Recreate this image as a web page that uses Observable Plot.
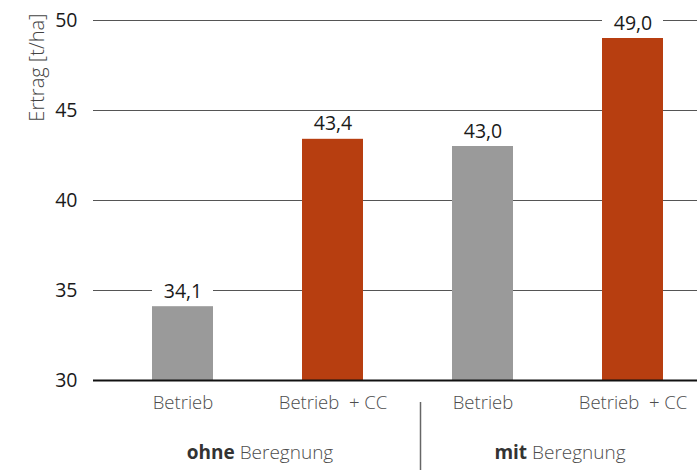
<!DOCTYPE html>
<html>
<head>
<meta charset="utf-8">
<script src="https://cdn.jsdelivr.net/npm/d3@7"></script>
<script src="https://cdn.jsdelivr.net/npm/@observablehq/plot@0.6"></script>
<style>
  html, body { margin: 0; padding: 0; background: #fff; }
  svg text { white-space: pre; }
</style>
</head>
<body>
<div id="chart"></div>
<script>
const groups = ["ohne", "ohne", "mit", "mit"];
const treatments = ["Betrieb", "Betrieb  + CC", "Betrieb", "Betrieb  + CC"];
const values = [34.1, 43.4, 43.0, 49.0];
const barColors = ["#9a9a9a", "#b73e10", "#9a9a9a", "#b73e10"];
const yTicks = [30, 35, 40, 45, 50];
const yLabel = "Ertrag [t/ha]";
const groupNames = ["ohne", "mit"];
const groupSuffix = "Beregnung";

const data = values.map((v, i) => ({
  key: i, group: groups[i], treatment: treatments[i], value: v, color: barColors[i]
}));
const fmt = v => d3.format(".1f")(v).replace(".", ",");
const groupData = groupNames.map(g => ({
  key: data.filter(d => d.group === g).slice(-1)[0].key,
  label: g + " " + groupSuffix
}));

const font = "'Open Sans', 'Noto Sans', sans-serif";

const chart = Plot.plot({
  width: 697,
  height: 470,
  marginTop: 20,
  marginBottom: 90,
  marginLeft: 93,
  marginRight: 0,
  style: { fontFamily: font, background: "#fff", overflow: "visible" },
  x: {
    type: "band",
    domain: data.map(d => d.key),
    range: [107.5, 707.5],
    paddingInner: 0.593,
    paddingOuter: 0.2965,
    axis: null
  },
  y: { domain: [30, 50], axis: null },
  marks: [
    Plot.ruleY(yTicks.filter(t => t !== 30), { stroke: "#555", strokeWidth: 1 }),
    Plot.barY(data, { x: "key", y1: 30, y2: "value", fill: "color" }),
    Plot.ruleY([30], { stroke: "#111", strokeWidth: 2 }),
    // white boxes behind value labels
    Plot.barY(data, { x: "key", y1: "value", y2: "value", fill: "#fff", insetTop: -24, insetBottom: 3 }),
    Plot.text(data, {
      x: "key", y: "value", text: d => fmt(d.value),
      dy: -9, lineAnchor: "bottom", fontSize: 19.5, fill: "#1a1a1a"
    }),
    // y tick labels
    Plot.text(yTicks, {
      y: d => d, text: d => String(d),
      frameAnchor: "left", textAnchor: "end", dx: -16, fontSize: 19.5, fill: "#1a1a1a"
    }),
    // y axis label
    Plot.text([yLabel], {
      frameAnchor: "top-left", rotate: -90, textAnchor: "end",
      dx: -64, dy: -7, fontSize: 20, fill: "#444", fontWeight: 300
    }),
    // category labels
    Plot.text(data, {
      x: "key", text: "treatment", frameAnchor: "bottom",
      dy: 28, fontSize: 18.5, fill: "#4d4d4d", fontWeight: 300
    }),
    // group labels
    Plot.text(groupData, {
      x: "key", text: "label", frameAnchor: "bottom",
      dx: -73, dy: 78, fontSize: 19, fill: "#4d4d4d", fontWeight: 300
    }),
    // separator
    Plot.ruleX([data[1].key], {
      dx: 87.5, stroke: "#666", strokeWidth: 1.5, insetTop: 382, insetBottom: -92
    })
  ]
});

// bold the group words
d3.select(chart).selectAll("text").each(function () {
  const t = this.textContent;
  const g = groupNames.find(n => t === n + " " + groupSuffix);
  if (g) {
    this.textContent = "";
    d3.select(this).append("tspan").attr("font-weight", 700).attr("fill", "#333").text(g);
    d3.select(this).append("tspan").text(" " + groupSuffix);
  }
});

document.getElementById("chart").appendChild(chart);
</script>
</body>
</html>
